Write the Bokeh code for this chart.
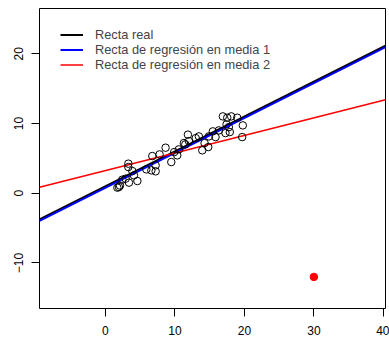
import numpy as np
from bokeh.plotting import figure
from bokeh.models import Range1d, FixedTicker, Legend, LegendItem
from bokeh.embed import file_html
from bokeh.resources import INLINE

# observed sample
x_obs = [1.72, 1.95, 2.44, 2.92, 3.30, 3.30, 3.39, 3.88, 4.11, 4.60,
         5.89, 6.61, 7.23, 7.23, 6.75, 7.80, 8.66, 9.48, 10.34, 10.57,
         11.29, 11.87, 12.01, 13.45, 13.94, 14.27, 14.80, 14.89, 15.46, 15.85,
         16.32, 16.90, 17.53, 18.10, 18.97, 17.43, 17.76, 17.28, 17.90, 19.77,
         19.68, 11.5, 9.9, 2.1, 13.0]
y_obs = [0.80, 0.89, 1.95, 2.09, 4.24, 3.75, 1.52, 3.18, 2.56, 1.75,
         3.42, 3.28, 3.14, 4.00, 5.33, 5.57, 6.53, 4.47, 5.43, 6.29,
         7.19, 8.40, 7.48, 8.15, 6.15, 7.19, 6.62, 8.15, 8.87, 8.05,
         9.01, 11.02, 10.83, 11.02, 10.83, 9.87, 9.48, 8.62, 8.77, 9.73,
         8.05, 7.0, 5.9, 1.1, 7.9]
# outlier
out_x = [30]
out_y = [-12]
# lines: real, regression 1, regression 2
line_labels = ["Recta real", "Recta de regresión en media 1", "Recta de regresión en media 2"]
intercepts = [1.0, 0.77, 3.24]
slopes = [0.5, 0.501, 0.252]
line_colors = ["black", "blue", "red"]
line_widths = [2, 2, 1.5]

x_ticks = [0, 10, 20, 30, 40]
y_ticks = [-10, 0, 10, 20]
xlim = (-9.48, 40.3)
ylim = (-16.53, 26.49)

FONT = "Liberation Sans"

p = figure(width=389, height=340, output_backend="svg", toolbar_location=None,
           x_range=Range1d(*xlim), y_range=Range1d(*ylim),
           min_border_left=39, min_border_right=4, min_border_top=8, min_border_bottom=32)
p.grid.visible = False
p.outline_line_color = "black"
p.outline_line_width = 1
p.outline_line_alpha = 1
p.background_fill_color = "white"
p.border_fill_color = "white"

for ax in (p.xaxis[0], p.yaxis[0]):
    ax.axis_line_color = None
    ax.major_tick_out = 8
    ax.major_tick_in = 0
    ax.minor_tick_out = 0
    ax.minor_tick_in = 0
    ax.major_tick_line_color = "black"
    ax.major_label_text_font = FONT
    ax.major_label_text_font_size = "12px"
    ax.major_label_text_color = "black"
p.xaxis[0].ticker = FixedTicker(ticks=x_ticks)
p.yaxis[0].ticker = FixedTicker(ticks=y_ticks)
p.xaxis[0].major_label_standoff = 9
p.yaxis[0].major_label_standoff = 8
p.yaxis[0].major_label_orientation = "vertical"

items = []
xs = np.array(xlim)
for lab, a, b, c, w in zip(line_labels, intercepts, slopes, line_colors, line_widths):
    r = p.line(xs, a + b * xs, line_color=c, line_width=w)
    items.append(LegendItem(label=lab, renderers=[r]))

p.scatter(x_obs, y_obs, size=7.5, marker="circle", fill_color=None,
          line_color="black", line_width=1)
p.scatter(out_x, out_y, size=7.5, marker="circle", fill_color="red", line_color="red")

legend = Legend(items=items, location=(21, 236), margin=0, padding=0, spacing=0,
                glyph_width=23, glyph_height=15, label_height=15, label_standoff=12,
                label_text_font=FONT, label_text_font_size="12.8px",
                background_fill_alpha=0, border_line_alpha=0)
p.add_layout(legend)

open("out.html", "w").write(file_html(p, INLINE))
